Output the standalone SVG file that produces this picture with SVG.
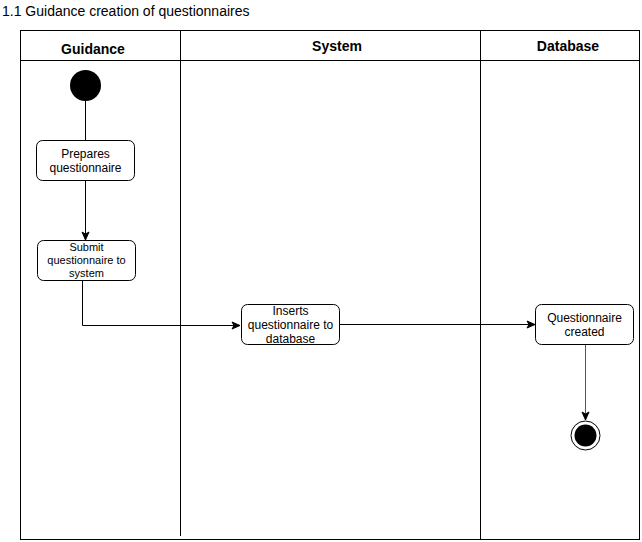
<svg xmlns="http://www.w3.org/2000/svg" width="642" height="542" viewBox="0 0 642 542">
<defs>
<marker id="arr" markerWidth="10" markerHeight="10" refX="9" refY="5" orient="auto" markerUnits="userSpaceOnUse">
<path d="M1,1.5 L9,5 L1,8.5 L3,5 Z" fill="#000" stroke="#000" stroke-width="1"/>
</marker>
</defs>
<style>
text{font-family:"Liberation Sans",Arial,sans-serif;fill:#000}
.hdr{font-size:14px;font-weight:bold;text-anchor:middle}
.lbl{font-size:12px;text-anchor:middle}
.sm{font-size:11px;text-anchor:middle}
.box{fill:#fff;stroke:#000;stroke-width:1}
.ln{fill:none;stroke:#000;stroke-width:1}
</style>
<rect width="642" height="542" fill="#fff"/>
<text x="2" y="16" style="font-size:14px">1.1 Guidance creation of questionnaires</text>
<g id="lanes">
<rect x="20.5" y="30.5" width="619" height="509" class="ln"/>
<line x1="20" y1="60.5" x2="640" y2="60.5" class="ln"/>
<line x1="180.5" y1="30" x2="180.5" y2="536" class="ln"/>
<line x1="480.5" y1="30" x2="480.5" y2="540" class="ln"/>
<text x="93" y="54" class="hdr">Guidance</text>
<text x="337" y="51" class="hdr">System</text>
<text x="568" y="51" class="hdr">Database</text>
</g>
<g id="connectors">
<line x1="85.5" y1="100" x2="85.5" y2="140" class="ln"/>
<line x1="85.5" y1="180" x2="85.5" y2="240" class="ln" marker-end="url(#arr)"/>
<polyline points="82.5,280 82.5,325.5 240,325.5" class="ln" marker-end="url(#arr)"/>
<line x1="340" y1="324.5" x2="535" y2="324.5" class="ln" marker-end="url(#arr)"/>
<line x1="585.5" y1="344" x2="585.5" y2="420" stroke="#555" stroke-width="1" marker-end="url(#arr)"/>
</g>
<g id="start"><circle cx="85.5" cy="85.5" r="15.5" fill="#000"/></g>
<g id="prepares">
<rect x="36.5" y="140.5" width="98" height="40" rx="6" class="box"/>
<text x="85.5" y="158" class="lbl">Prepares</text>
<text x="85.5" y="172" class="lbl">questionnaire</text>
</g>
<g id="submit">
<rect x="37.5" y="240.5" width="98" height="40" rx="6" class="box"/>
<text x="86.5" y="251" class="sm">Submit</text>
<text x="86.5" y="264" class="sm">questionnaire to</text>
<text x="86.5" y="277" class="sm">system</text>
</g>
<g id="inserts">
<rect x="241.5" y="304.5" width="98" height="40" rx="6" class="box"/>
<text x="290.5" y="315" class="lbl">Inserts</text>
<text x="290.5" y="329" class="lbl">questionnaire to</text>
<text x="290.5" y="343" class="lbl">database</text>
</g>
<g id="created">
<rect x="535.5" y="304.5" width="98" height="40" rx="6" class="box"/>
<text x="584.5" y="322" class="lbl">Questionnaire</text>
<text x="584.5" y="336" class="lbl">created</text>
</g>
<g id="end">
<circle cx="585.5" cy="435.5" r="14.5" fill="#fff" stroke="#000" stroke-width="1"/>
<circle cx="585.5" cy="435.5" r="11" fill="#000"/>
</g>
</svg>
